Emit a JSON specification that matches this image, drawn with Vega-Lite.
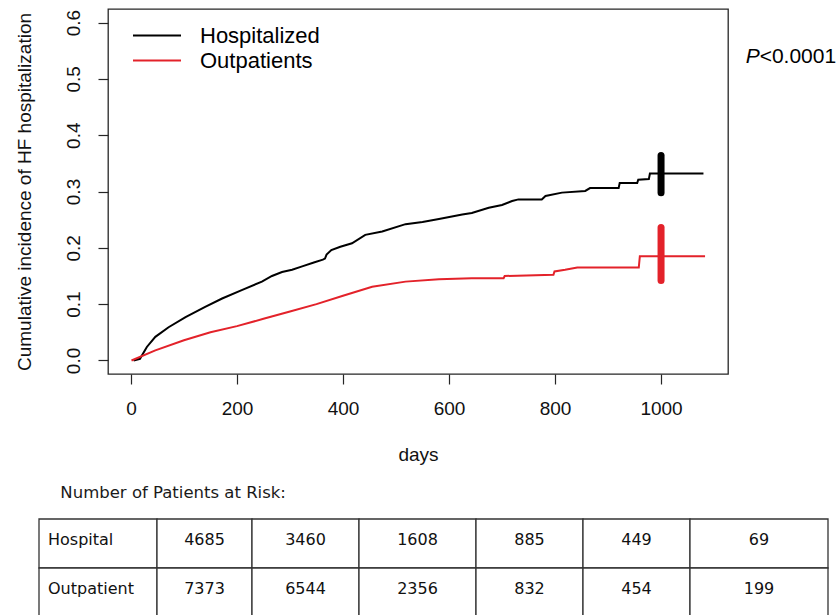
{
  "$schema": "https://vega.github.io/schema/vega-lite/v6.json",
  "background": "white",
  "padding": {"left": 14, "top": 8, "right": 0, "bottom": 0},
  "spacing": 19,
  "config": {"font": "Liberation Sans", "axis": {"grid": false}},
  "datasets": {
    "curves": [
      {"group": "Hospitalized", "day": 5, "value": 0},
      {"group": "Hospitalized", "day": 17, "value": 0.003},
      {"group": "Hospitalized", "day": 30, "value": 0.024},
      {"group": "Hospitalized", "day": 46, "value": 0.042},
      {"group": "Hospitalized", "day": 71, "value": 0.059},
      {"group": "Hospitalized", "day": 103, "value": 0.077},
      {"group": "Hospitalized", "day": 140, "value": 0.095},
      {"group": "Hospitalized", "day": 172, "value": 0.11},
      {"group": "Hospitalized", "day": 209, "value": 0.125},
      {"group": "Hospitalized", "day": 247, "value": 0.14},
      {"group": "Hospitalized", "day": 266, "value": 0.15},
      {"group": "Hospitalized", "day": 285, "value": 0.157},
      {"group": "Hospitalized", "day": 304, "value": 0.161},
      {"group": "Hospitalized", "day": 323, "value": 0.167},
      {"group": "Hospitalized", "day": 345, "value": 0.174},
      {"group": "Hospitalized", "day": 362, "value": 0.179},
      {"group": "Hospitalized", "day": 366, "value": 0.181},
      {"group": "Hospitalized", "day": 369, "value": 0.188},
      {"group": "Hospitalized", "day": 378, "value": 0.196},
      {"group": "Hospitalized", "day": 395, "value": 0.202},
      {"group": "Hospitalized", "day": 417, "value": 0.208},
      {"group": "Hospitalized", "day": 442, "value": 0.223},
      {"group": "Hospitalized", "day": 474, "value": 0.229},
      {"group": "Hospitalized", "day": 518, "value": 0.242},
      {"group": "Hospitalized", "day": 550, "value": 0.246},
      {"group": "Hospitalized", "day": 581, "value": 0.251},
      {"group": "Hospitalized", "day": 625, "value": 0.259},
      {"group": "Hospitalized", "day": 643, "value": 0.262},
      {"group": "Hospitalized", "day": 675, "value": 0.271},
      {"group": "Hospitalized", "day": 700, "value": 0.276},
      {"group": "Hospitalized", "day": 719, "value": 0.283},
      {"group": "Hospitalized", "day": 731, "value": 0.286},
      {"group": "Hospitalized", "day": 775, "value": 0.286},
      {"group": "Hospitalized", "day": 782, "value": 0.292},
      {"group": "Hospitalized", "day": 813, "value": 0.298},
      {"group": "Hospitalized", "day": 857, "value": 0.301},
      {"group": "Hospitalized", "day": 866, "value": 0.306},
      {"group": "Hospitalized", "day": 920, "value": 0.306},
      {"group": "Hospitalized", "day": 922, "value": 0.315},
      {"group": "Hospitalized", "day": 955, "value": 0.315},
      {"group": "Hospitalized", "day": 957, "value": 0.321},
      {"group": "Hospitalized", "day": 977, "value": 0.322},
      {"group": "Hospitalized", "day": 979, "value": 0.332},
      {"group": "Hospitalized", "day": 1080, "value": 0.332},
      {"group": "Outpatients", "day": 1, "value": 0},
      {"group": "Outpatients", "day": 46, "value": 0.018},
      {"group": "Outpatients", "day": 100, "value": 0.036},
      {"group": "Outpatients", "day": 150, "value": 0.05},
      {"group": "Outpatients", "day": 200, "value": 0.061},
      {"group": "Outpatients", "day": 250, "value": 0.074},
      {"group": "Outpatients", "day": 300, "value": 0.087},
      {"group": "Outpatients", "day": 350, "value": 0.1},
      {"group": "Outpatients", "day": 400, "value": 0.115},
      {"group": "Outpatients", "day": 455, "value": 0.131},
      {"group": "Outpatients", "day": 518, "value": 0.14},
      {"group": "Outpatients", "day": 581, "value": 0.144},
      {"group": "Outpatients", "day": 643, "value": 0.146},
      {"group": "Outpatients", "day": 703, "value": 0.146},
      {"group": "Outpatients", "day": 705, "value": 0.15},
      {"group": "Outpatients", "day": 797, "value": 0.152},
      {"group": "Outpatients", "day": 799, "value": 0.158},
      {"group": "Outpatients", "day": 819, "value": 0.161},
      {"group": "Outpatients", "day": 842, "value": 0.165},
      {"group": "Outpatients", "day": 958, "value": 0.165},
      {"group": "Outpatients", "day": 960, "value": 0.185},
      {"group": "Outpatients", "day": 1083, "value": 0.185}
    ],
    "censor": [
      {"group": "Hospitalized", "day": 1000, "lo": 0.298, "hi": 0.364},
      {"group": "Outpatients", "day": 1000, "lo": 0.142, "hi": 0.236}
    ],
    "pval": [
      {"part": "P", "day": 1160, "value": 0.538, "label": "P"},
      {"part": "rest", "day": 1186, "value": 0.538, "label": "<0.0001"}
    ],
    "table": [
      {"row": "Hospital", "col": 0, "x0": 0, "x1": 118, "label": "Hospital"},
      {"row": "Hospital", "col": 1, "x0": 118, "x1": 213, "label": "4685"},
      {"row": "Hospital", "col": 2, "x0": 213, "x1": 320, "label": "3460"},
      {"row": "Hospital", "col": 3, "x0": 320, "x1": 437, "label": "1608"},
      {"row": "Hospital", "col": 4, "x0": 437, "x1": 544, "label": "885"},
      {"row": "Hospital", "col": 5, "x0": 544, "x1": 651, "label": "449"},
      {"row": "Hospital", "col": 6, "x0": 651, "x1": 789, "label": "69"},
      {"row": "Outpatient", "col": 0, "x0": 0, "x1": 118, "label": "Outpatient"},
      {"row": "Outpatient", "col": 1, "x0": 118, "x1": 213, "label": "7373"},
      {"row": "Outpatient", "col": 2, "x0": 213, "x1": 320, "label": "6544"},
      {"row": "Outpatient", "col": 3, "x0": 320, "x1": 437, "label": "2356"},
      {"row": "Outpatient", "col": 4, "x0": 437, "x1": 544, "label": "832"},
      {"row": "Outpatient", "col": 5, "x0": 544, "x1": 651, "label": "454"},
      {"row": "Outpatient", "col": 6, "x0": 651, "x1": 789, "label": "199"}
    ]
  },
  "vconcat": [
    {
      "width": 620,
      "height": 365,
      "view": {"stroke": "#262626", "strokeWidth": 1.3},
      "layer": [
        {
          "data": {"name": "curves"},
          "mark": {"type": "line", "strokeWidth": 2, "interpolate": "linear"},
          "encoding": {
            "x": {
              "field": "day", "type": "quantitative",
              "scale": {"domain": [-43.3, 1126.3], "nice": false, "zero": false},
              "axis": {
                "values": [0, 200, 400, 600, 800, 1000], "format": "d", "title": "days",
                "domain": false, "tickSize": 10, "tickColor": "#262626", "tickWidth": 1.2,
                "labelPadding": 15, "labelFontSize": 19, "labelColor": "#111", "labelFlush": false,
                "labelFont": "Liberation Sans", "titleFont": "Liberation Sans",
                "titleFontSize": 19, "titleFontWeight": "normal", "titleColor": "#111",
                "titleY": 86, "titleBaseline": "alphabetic"
              }
            },
            "y": {
              "field": "value", "type": "quantitative",
              "scale": {"domain": [-0.024, 0.624], "nice": false, "zero": false},
              "axis": {
                "values": [0, 0.1, 0.2, 0.3, 0.4, 0.5, 0.6], "format": ".1f",
                "title": "Cumulative incidence of HF hospitalization",
                "domain": false, "tickSize": 10, "tickColor": "#262626", "tickWidth": 1.2,
                "labelAngle": -90, "labelAlign": "center", "labelBaseline": "alphabetic",
                "labelPadding": 19, "labelFontSize": 19, "labelColor": "#111", "labelFlush": false,
                "labelOverlap": false, "labelFont": "Liberation Sans", "titleFont": "Liberation Sans",
                "titleFontSize": 19, "titleFontWeight": "normal", "titleColor": "#111",
                "titleX": -78, "titleY": 182.5, "titleBaseline": "alphabetic", "titleAngle": -90
              }
            },
            "color": {
              "field": "group", "type": "nominal",
              "scale": {"domain": ["Hospitalized", "Outpatients"], "range": ["#000000", "#e3222a"]},
              "legend": {
                "orient": "none", "legendX": 24, "legendY": 16, "title": null,
                "symbolType": "stroke", "symbolSize": 2304, "symbolStrokeWidth": 2,
                "labelFontSize": 22, "labelFont": "Liberation Sans", "labelColor": "#000",
                "labelOffset": 18, "padding": 0, "rowPadding": 2, "clipHeight": 21
              }
            }
          }
        },
        {
          "data": {"name": "censor"},
          "transform": [{"filter": "datum.group === 'Hospitalized'"}],
          "mark": {"type": "rule", "strokeWidth": 7, "strokeCap": "round", "color": "#000000"},
          "encoding": {
            "x": {"field": "day", "type": "quantitative"},
            "y": {"field": "lo", "type": "quantitative"},
            "y2": {"field": "hi"}
          }
        },
        {
          "data": {"name": "censor"},
          "transform": [{"filter": "datum.group === 'Outpatients'"}],
          "mark": {"type": "rule", "strokeWidth": 7, "strokeCap": "round", "color": "#e3222a"},
          "encoding": {
            "x": {"field": "day", "type": "quantitative"},
            "y": {"field": "lo", "type": "quantitative"},
            "y2": {"field": "hi"}
          }
        },
        {
          "data": {"name": "pval"},
          "transform": [{"filter": "datum.part === 'P'"}],
          "mark": {"type": "text", "fontStyle": "italic", "align": "left", "baseline": "middle", "fontSize": 21, "font": "Liberation Sans", "color": "#000"},
          "encoding": {
            "x": {"field": "day", "type": "quantitative"},
            "y": {"field": "value", "type": "quantitative"},
            "text": {"field": "label"}
          }
        },
        {
          "data": {"name": "pval"},
          "transform": [{"filter": "datum.part === 'rest'"}],
          "mark": {"type": "text", "align": "left", "baseline": "middle", "fontSize": 21, "font": "Liberation Sans", "color": "#000"},
          "encoding": {
            "x": {"field": "day", "type": "quantitative"},
            "y": {"field": "value", "type": "quantitative"},
            "text": {"field": "label"}
          }
        }
      ]
    },
    {
      "width": 720,
      "height": 98,
      "view": {"stroke": null},
      "title": {
        "text": "Number of Patients at Risk:", "anchor": "start", "dx": 22,
        "font": "DejaVu Sans", "fontSize": 16.5, "fontWeight": "normal", "color": "#1a1a1a",
        "baseline": "alphabetic", "offset": 4
      },
      "data": {"name": "table"},
      "layer": [
        {
          "mark": {"type": "rect", "fill": "white", "stroke": "#333333", "strokeWidth": 1.3},
          "encoding": {
            "x": {"field": "x0", "type": "quantitative", "scale": {"domain": [69, 789], "nice": false, "zero": false}, "axis": null},
            "x2": {"field": "x1"},
            "y": {"field": "row", "type": "nominal", "scale": {"domain": ["Hospital", "Outpatient"], "paddingInner": 0, "paddingOuter": 0}, "axis": null}
          }
        },
        {
          "transform": [{"filter": "datum.col === 0"}],
          "mark": {"type": "text", "align": "left", "baseline": "middle", "dx": 9, "dy": -4, "font": "DejaVu Sans", "fontSize": 16, "color": "#111"},
          "encoding": {
            "x": {"field": "x0", "type": "quantitative"},
            "y": {"field": "row", "type": "nominal"},
            "text": {"field": "label"}
          }
        },
        {
          "transform": [
            {"filter": "datum.col > 0"},
            {"fold": ["x0", "x1"], "as": ["edge", "pos"]}
          ],
          "mark": {"type": "text", "align": "center", "baseline": "middle", "dy": -4, "font": "DejaVu Sans", "fontSize": 16, "color": "#111"},
          "encoding": {
            "x": {"field": "pos", "type": "quantitative", "aggregate": "mean"},
            "y": {"field": "row", "type": "nominal"},
            "detail": {"field": "col", "type": "nominal"},
            "text": {"field": "label"}
          }
        }
      ]
    }
  ]
}
